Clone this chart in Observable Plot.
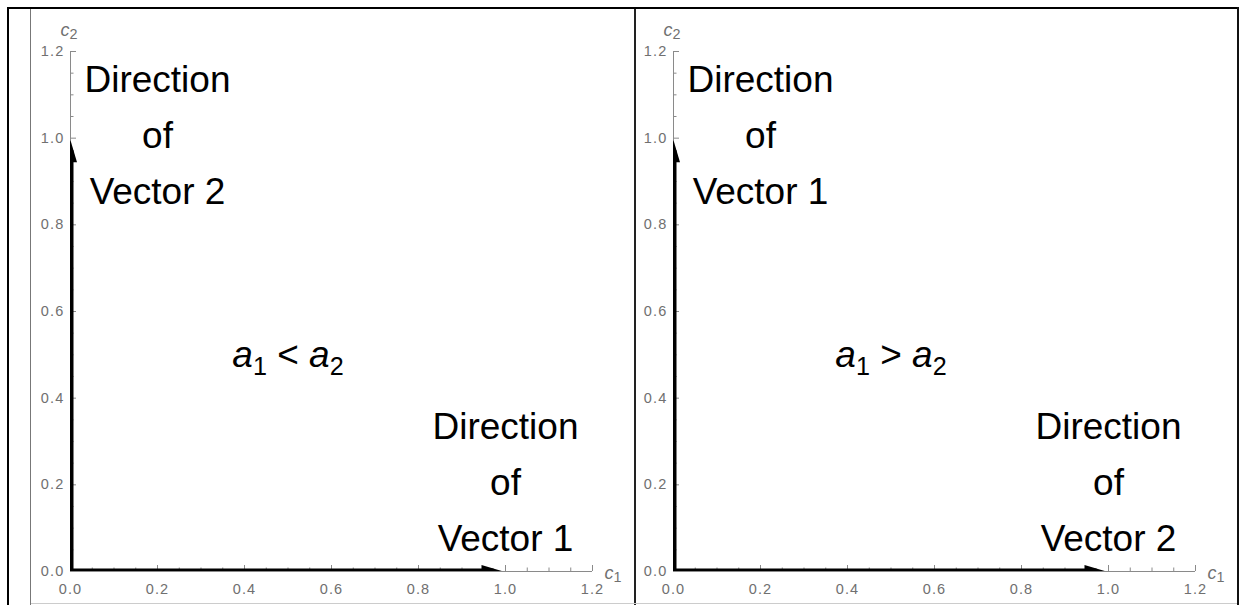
<!DOCTYPE html>
<html><head><meta charset="utf-8">
<script src="https://cdn.jsdelivr.net/npm/d3@7"></script>
<script src="https://cdn.jsdelivr.net/npm/@observablehq/plot@0.6"></script>
<style>
html,body{margin:0;padding:0;background:#fff;width:1249px;height:605px;overflow:hidden;}
#wrap{position:relative;width:1249px;height:605px;}
.panel{position:absolute;top:0;}
.ln{position:absolute;z-index:5;}
g[aria-label="x-axis tick label"] text, g[aria-label="y-axis tick label"] text{letter-spacing:1.2px;}
text{white-space:pre;}
</style></head><body>
<div id="wrap">
  <div class="panel" id="p1" style="left:0px"></div>
  <div class="panel" id="p2" style="left:603px"></div>
  <div class="ln" style="left:7px;top:7px;width:1232px;height:2px;background:#000"></div>
  <div class="ln" style="left:7px;top:7px;width:2px;height:598px;background:#000"></div>
  <div class="ln" style="left:30px;top:9px;width:1px;height:596px;background:#777"></div>
  <div class="ln" style="left:634px;top:9px;width:2px;height:596px;background:#222"></div>
  <div class="ln" style="left:1237px;top:7px;width:2px;height:598px;background:#111"></div>
  <div class="ln" style="left:31px;top:603px;width:1206px;height:1px;background:#ccc"></div>
</div>
<script>
// ---- data ----
const majorTicks = [0, 0.2, 0.4, 0.6, 0.8, 1.0, 1.2];
const minorTicks = [0.05, 0.1, 0.15, 0.25, 0.3, 0.35, 0.45, 0.5, 0.55, 0.65, 0.7, 0.75, 0.85, 0.9, 0.95, 1.05, 1.1, 1.15];
const axisNames = ["c1", "c2"];
const comparisons = ["a1 < a2", "a1 > a2"];
const verticalVectorName = ["Vector 2", "Vector 1"];
const horizontalVectorName = ["Vector 1", "Vector 2"];
const horizontalVector = {x1: 0, y1: 0, x2: 1, y2: 0};
const verticalVector = {x1: 0, y1: 0, x2: 0, y2: 1};
const comparisonPos = {x: 0.5, y: 0.5};
const verticalLabelPos = {x: 0.2, y: 1.0};
const horizontalLabelPos = {x: 1.0, y: 0.2};

// ---- styles ----
const axisColor = "#8a8a8a";
const labelColor = "#707070";
const W = 620, H = 605, mL = 70, mR = 28, mT = 51, mB = 34;
const plotW = W - mL - mR, plotH = H - mT - mB;
const headLen = 22, headHalf = 6.5, tipBack = 2;
const headUp = {draw(c) { c.moveTo(0, tipBack); c.lineTo(-headHalf, tipBack + headLen); c.lineTo(headHalf, tipBack + headLen); c.closePath(); }};
const headRight = {draw(c) { c.moveTo(-tipBack, 0); c.lineTo(-tipBack - headLen, -headHalf); c.lineTo(-tipBack - headLen, headHalf); c.closePath(); }};

function subscriptify(svg, strings, ratio) {
  const ns = "http://www.w3.org/2000/svg";
  svg.querySelectorAll("text").forEach(t => {
    const s = t.textContent;
    if (!strings.includes(s)) return;
    const size = parseFloat(t.closest("g").getAttribute("font-size")) || 16;
    const shift = size * 0.22;
    const parts = s.match(/[a-z]\d|[^a-z\d]+/g);
    t.textContent = "";
    let shifted = false;
    for (const p of parts) {
      if (/^[a-z]\d$/.test(p)) {
        const a = document.createElementNS(ns, "tspan");
        a.setAttribute("font-style", "italic");
        a.textContent = p[0];
        if (shifted) { a.setAttribute("dy", -shift); shifted = false; }
        t.appendChild(a);
        const b = document.createElementNS(ns, "tspan");
        b.setAttribute("font-size", size * ratio);
        b.setAttribute("dy", shift);
        b.textContent = p[1];
        t.appendChild(b);
        shifted = true;
      } else {
        const o = document.createElementNS(ns, "tspan");
        o.textContent = p;
        if (shifted) { o.setAttribute("dy", -shift); shifted = false; }
        t.appendChild(o);
      }
    }
  });
}

function panel(i) {
  const vLabel = [{...verticalLabelPos, text: "Direction\nof\n" + verticalVectorName[i]}];
  const hLabel = [{...horizontalLabelPos, text: "Direction\nof\n" + horizontalVectorName[i]}];
  const comp = [{...comparisonPos, text: comparisons[i]}];
  const svg = Plot.plot({
    width: W, height: H,
    marginLeft: mL, marginRight: mR, marginTop: mT, marginBottom: mB,
    x: {domain: [0, 1.2]},
    y: {domain: [0, 1.2]},
    style: {background: "transparent", fontFamily: "'Liberation Sans', Arial, sans-serif", overflow: "visible", color: "black"},
    marks: [
      Plot.ruleY([0], {stroke: axisColor, strokeWidth: 1}),
      Plot.ruleX([0], {stroke: axisColor, strokeWidth: 1}),
      Plot.ruleX(majorTicks, {stroke: axisColor, insetTop: plotH - 6}),
      Plot.ruleX(minorTicks, {stroke: axisColor, insetTop: plotH - 3.5}),
      Plot.ruleY(majorTicks, {stroke: axisColor, insetRight: plotW - 6}),
      Plot.ruleY(minorTicks, {stroke: axisColor, insetRight: plotW - 3.5}),
      Plot.axisX(majorTicks, {tickSize: 0, tickPadding: 12, tickFormat: d3.format(".1f"), fontSize: 14.5, color: labelColor, label: null}),
      Plot.axisY(majorTicks, {tickSize: 0, tickPadding: 6, tickFormat: d3.format(".1f"), fontSize: 14.5, color: labelColor, label: null}),
      Plot.arrow([horizontalVector, verticalVector], {x1: "x1", y1: "y1", x2: "x2", y2: "y2", stroke: "black", strokeWidth: 6, headLength: 0, insetEnd: 12, strokeLinecap: "butt", clip: true}),
      Plot.dot([verticalVector], {x: "x2", y: "y2", symbol: headUp, r: 5, fill: "black", stroke: "none", clip: true}),
      Plot.dot([horizontalVector], {x: "x2", y: "y2", symbol: headRight, r: 5, fill: "black", stroke: "none", clip: true}),
      Plot.text(vLabel, {x: "x", y: "y", text: "text", fontSize: 37, lineHeight: 1.51, dy: -8, fill: "black"}),
      Plot.text(hLabel, {x: "x", y: "y", text: "text", fontSize: 37, lineHeight: 1.51, dy: -8, fill: "black"}),
      Plot.text(comp, {x: "x", y: "y", text: "text", fontSize: 37, fill: "black"}),
      Plot.text([{x: 0, y: 1.2, text: axisNames[1]}], {x: "x", y: "y", text: "text", fontSize: 18, textAnchor: "start", lineAnchor: "bottom", dx: -10, dy: -16, fill: labelColor}),
      Plot.text([{x: 1.2, y: 0, text: axisNames[0]}], {x: "x", y: "y", text: "text", fontSize: 18, textAnchor: "start", lineAnchor: "bottom", dx: 12, dy: 7, fill: labelColor})
    ]
  });
  subscriptify(svg, comparisons, 0.68);
  subscriptify(svg, axisNames, 0.8);
  return svg;
}
document.getElementById("p1").appendChild(panel(0));
document.getElementById("p2").appendChild(panel(1));
</script>
</body></html>
